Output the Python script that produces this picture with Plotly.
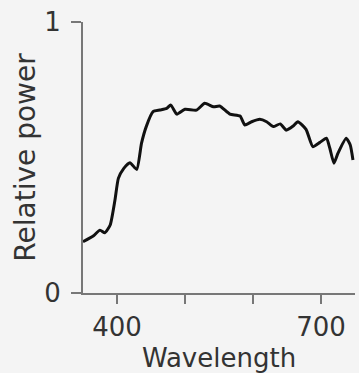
import plotly.graph_objects as go

wavelength = [350, 365, 375, 382, 390, 397, 402, 410, 419, 429, 436, 443, 453, 463, 473, 479,
              488, 500, 517, 529, 542, 551, 566, 581, 588, 598, 610, 620, 630, 640, 649, 659,
              666, 678, 688, 698, 708, 713, 719, 725, 737, 743, 747]
power = [0.189, 0.21, 0.232, 0.222, 0.251, 0.343, 0.423, 0.46, 0.481, 0.456, 0.552, 0.614,
         0.669, 0.675, 0.681, 0.694, 0.66, 0.678, 0.675, 0.70, 0.687, 0.69, 0.66, 0.653,
         0.62, 0.632, 0.641, 0.632, 0.614, 0.624, 0.601, 0.616, 0.632, 0.604, 0.54, 0.555,
         0.571, 0.534, 0.479, 0.516, 0.571, 0.546, 0.491]
x_tickvals = [400, 500, 600, 700]
x_ticktext = ["400", "", "", "700"]
y_tickvals = [0, 1]
y_ticktext = ["0", "1"]

BG = "#f4f4f4"
AX = "#777777"
TXT = "#333333"
FONT = "DejaVu Sans"

fig = go.Figure()
fig.add_trace(go.Scatter(x=wavelength, y=power, mode="lines",
                         line=dict(color="#111111", width=3, shape="spline", smoothing=0.5),
                         hoverinfo="skip"))

fig.update_layout(
    width=359, height=373,
    margin=dict(l=83, r=4, t=22, b=80),
    paper_bgcolor=BG, plot_bgcolor=BG,
    showlegend=False,
    font=dict(family=FONT, size=26, color=TXT),
    xaxis=dict(range=[350, 750], tickvals=x_tickvals, ticktext=x_ticktext, automargin=False,
               showgrid=False, zeroline=False, showline=True, linecolor=AX, linewidth=2,
               ticks="outside", ticklen=9, tickcolor=AX, tickwidth=2,
               tickfont=dict(family=FONT, size=26, color=TXT), ticklabelstandoff=1,
               title=dict(text="Wavelength", font=dict(family=FONT, size=26, color=TXT), standoff=8)),
    yaxis=dict(range=[0, 1], tickvals=y_tickvals, ticktext=y_ticktext, automargin=False,
               showgrid=False, zeroline=False, showline=True, linecolor=AX, linewidth=2,
               ticks="outside", ticklen=10, tickcolor=AX, tickwidth=2,
               tickfont=dict(family=FONT, size=26, color=TXT), ticklabelstandoff=5,
               title=dict(text="Relative power", font=dict(family=FONT, size=28, color=TXT), standoff=0)),
)

fig.write_html("out.html", config={"displayModeBar": False},
               post_script="document.body.style.margin='0';document.body.style.background='#f4f4f4';")
